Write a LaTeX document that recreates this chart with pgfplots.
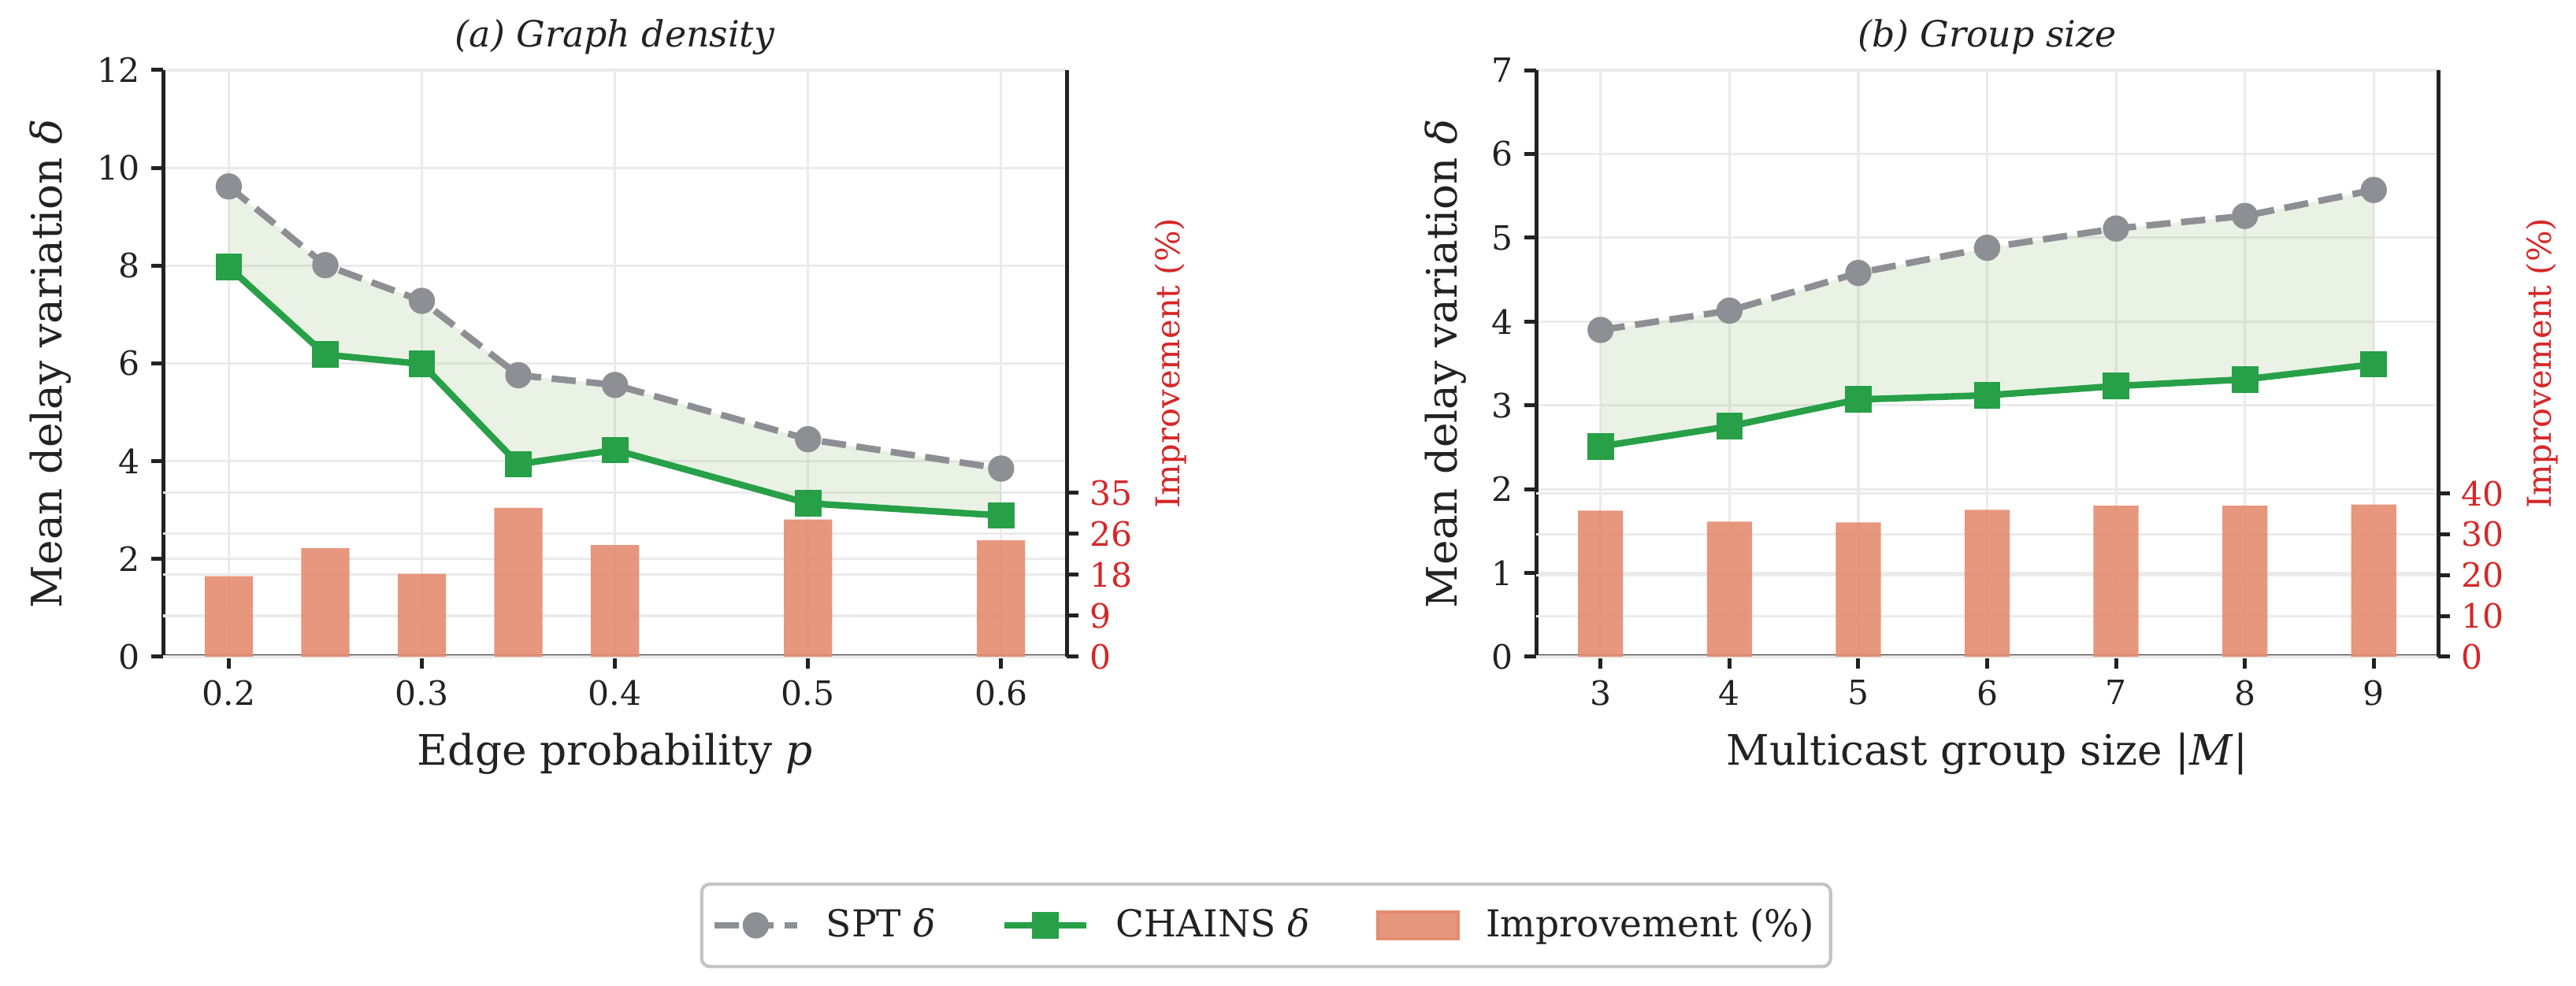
\documentclass[border=0pt]{standalone}
\usepackage{pgfplots}
\pgfplotsset{compat=1.18}
\usepackage{fontspec}
\setmainfont{DejaVu Serif}
\definecolor{sptgray}{HTML}{8E8F94}
\definecolor{chgreen}{HTML}{27A048}
\definecolor{barsal}{HTML}{E48C70}
\definecolor{impred}{HTML}{D62728}
\definecolor{gridc}{HTML}{EBEBEB}
\definecolor{fillg}{RGB}{112,170,80}
\definecolor{spine}{HTML}{222222}
\definecolor{legbord}{HTML}{C4C4C4}

\pgfplotstableread{
x spt chains
0.20 9.62 7.97
0.25 8.01 6.18
0.30 7.28 5.99
0.35 5.76 3.94
0.40 5.56 4.23
0.50 4.45 3.14
0.60 3.85 2.89
}\densdata
\pgfplotstableread{
x imp
0.20 17.3
0.25 23.3
0.30 17.8
0.35 32.0
0.40 24.0
0.50 29.5
0.60 25.0
}\densimp
\pgfplotstableread{
x spt chains
3 3.90 2.51
4 4.13 2.75
5 4.58 3.07
6 4.88 3.12
7 5.11 3.23
8 5.26 3.31
9 5.57 3.49
}\grpdata
\pgfplotstableread{
x imp
3 35.8
4 33.1
5 32.9
6 36.0
7 37.0
8 37.0
9 37.3
}\grpimp

\pgfplotsset{
  common/.style={
    scale only axis, height=178.8bp,
    axis line style={line width=1.2bp, draw=spine},
    major tick style={line width=1.2bp, draw=spine},
    major tick length=3.6bp,
    tick align=outside,
    /pgf/number format/assume math mode=true,
    ticklabel style={font=\fontsize{10.2bp}{12bp}\selectfont, text=spine},
    label style={font=\fontsize{12.8bp}{15bp}\selectfont, text=spine},
    grid style={line width=0.75bp, draw=gridc},
  },
  leftax/.style={common, axis x line*=bottom, axis y line*=left,
    xtick pos=lower, ytick pos=left, grid=major,
    xlabel style={at={(axis description cs:0.5,-0.1658)}, anchor=center},
  },
  paneltitle/.style={extra description/.code={
    \node[anchor=base, inner sep=0pt, text=spine,
      font=\fontsize{11bp}{13bp}\selectfont\itshape]
      at (axis description cs:0.5,1.039) {#1};}},
  rightax/.style={common, hide x axis, axis y line*=right,
    ytick pos=right, yticklabel pos=right, ymajorgrids,
    yticklabel style={text=impred},
    ylabel style={at={(axis description cs:1.115,0.5)}, anchor=center,
      text=impred, font=\fontsize{10bp}{12bp}\selectfont},
    ylabel={Improvement (\%)},
    ymin=0,
  },
  sptline/.style={color=sptgray, line width=2bp, dash pattern=on 7.4bp off 3.2bp,
    mark=*, mark size=3.75bp, mark options={solid, fill=sptgray, draw=sptgray, line width=0.5bp}},
  chline/.style={color=chgreen, line width=2bp,
    mark=square*, mark size=3.8bp, mark options={solid, fill=chgreen, draw=chgreen, line width=0.5bp}},
  barsty/.style={fill=barsal, fill opacity=0.9, draw=none},
  bandsty/.style={fill=fillg, fill opacity=0.15, draw=none, mark=none},
}

\begin{document}
\begin{tikzpicture}
\path[use as bounding box] (0,0) rectangle (784.8bp,300.24bp);

% ===== Left panel =====
\begin{axis}[leftax, at={(49.7bp,100.08bp)}, anchor=south west, width=275.3bp,
  xmin=0.166, xmax=0.634, ymin=0, ymax=12,
  xtick={0.2,0.3,0.4,0.5,0.6}, ytick={0,2,4,6,8,10,12},
  xticklabel style={/pgf/number format/.cd, fixed, fixed zerofill, precision=1},
  xlabel={Edge probability \textit{p}},
  ylabel={Mean delay variation \textit{δ}},
  ylabel style={at={(axis description cs:-0.125,0.5)}, anchor=center},
  paneltitle={(a) Graph density}]
\end{axis}
\begin{axis}[rightax, at={(49.7bp,100.08bp)}, anchor=south west, width=275.3bp,
  xmin=0.166, xmax=0.634, ymax=126,
  ytick={0,8.8,17.6,26.4,35.2}, yticklabels={0,9,18,26,35},
  ybar, bar width=0.025]
\addplot[barsty] table[x=x,y=imp] {\densimp};
\end{axis}
\begin{axis}[common, hide axis, at={(49.7bp,100.08bp)}, anchor=south west, width=275.3bp,
  xmin=0.166, xmax=0.634, ymin=0, ymax=12,
  legend columns=3, legend cell align=left,
  legend image code/.code={\draw[mark repeat=2,mark phase=2,#1] plot coordinates {(0bp,0bp) (12.5bp,0bp) (25bp,0bp)};},
  legend style={at={(axis description cs:1.2206,-0.4577)}, anchor=center,
    draw=legbord, line width=1bp, rounded corners=2.5bp,
    font=\fontsize{11.3bp}{13bp}\selectfont, text=spine,
    inner xsep=3bp, inner ysep=5.5bp,
    /tikz/every odd column/.append style={column sep=6bp},
    /tikz/every even column/.append style={column sep=18bp}}]
\addplot[bandsty, forget plot] coordinates {
 (0.20,9.62) (0.25,8.01) (0.30,7.28) (0.35,5.76) (0.40,5.56) (0.50,4.45) (0.60,3.85)
 (0.60,2.89) (0.50,3.14) (0.40,4.23) (0.35,3.94) (0.30,5.99) (0.25,6.18) (0.20,7.97)} -- cycle;
\addplot[sptline, forget plot] table[x=x,y=spt] {\densdata};
\addplot[chline, forget plot] table[x=x,y=chains] {\densdata};
\addlegendimage{sptline}
\addlegendentry{SPT \textit{δ}}
\addlegendimage{chline}
\addlegendentry{CHAINS \textit{δ}}
\addlegendimage{legend image code/.code={\fill[barsal, fill opacity=0.9, rounded corners=0pt] (0bp,-4.1bp) rectangle (24.5bp,4.1bp);}}
\addlegendentry{Improvement (\%)}
\end{axis}

% ===== Right panel =====
\begin{axis}[leftax, at={(468bp,100.08bp)}, anchor=south west, width=274.8bp,
  xmin=2.5, xmax=9.5, ymin=0, ymax=7,
  xtick={3,4,5,6,7,8,9}, ytick={0,1,2,3,4,5,6,7},
  xlabel={Multicast group size |\textit{M}|},
  ylabel={Mean delay variation \textit{δ}},
  ylabel style={at={(axis description cs:-0.1004,0.5)}, anchor=center},
  paneltitle={(b) Group size}]
\end{axis}
\begin{axis}[rightax, at={(468bp,100.08bp)}, anchor=south west, width=274.8bp,
  xmin=2.5, xmax=9.5, ymax=143.7,
  ytick={0,10,20,30,40},
  ybar, bar width=0.35]
\addplot[barsty] table[x=x,y=imp] {\grpimp};
\end{axis}
\begin{axis}[common, hide axis, at={(468bp,100.08bp)}, anchor=south west, width=274.8bp,
  xmin=2.5, xmax=9.5, ymin=0, ymax=7]
\addplot[bandsty] coordinates {
 (3,3.90) (4,4.13) (5,4.58) (6,4.88) (7,5.11) (8,5.26) (9,5.57)
 (9,3.49) (8,3.31) (7,3.23) (6,3.12) (5,3.07) (4,2.75) (3,2.51)} -- cycle;
\addplot[sptline] table[x=x,y=spt] {\grpdata};
\addplot[chline] table[x=x,y=chains] {\grpdata};
\end{axis}
\end{tikzpicture}
\end{document}
